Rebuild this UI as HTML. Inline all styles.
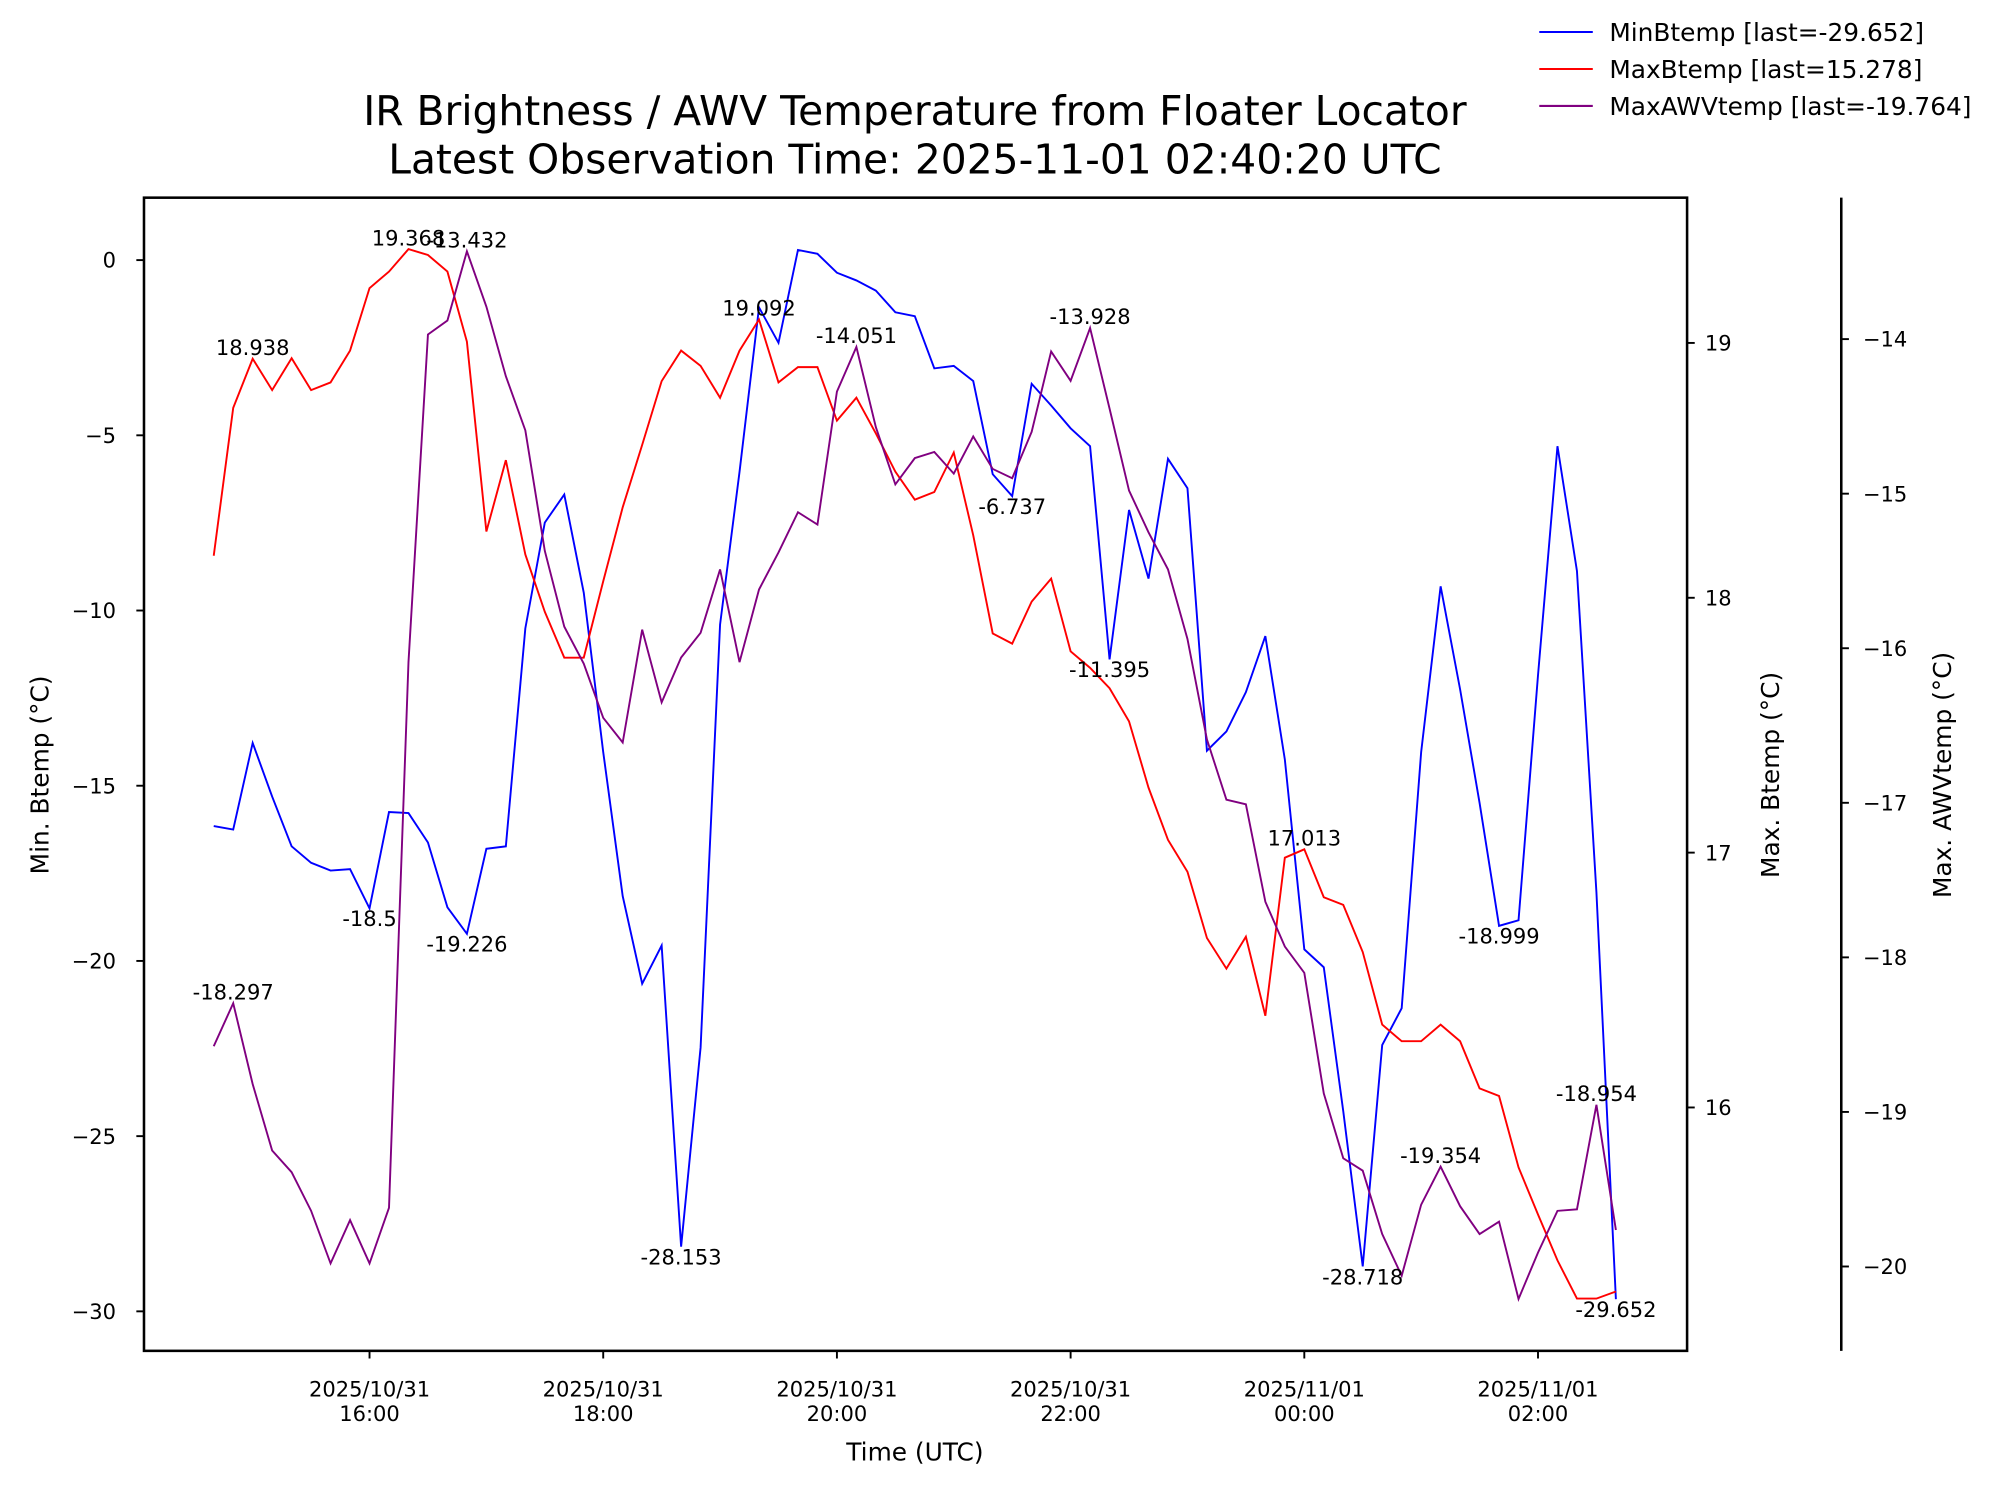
<!DOCTYPE html>
<html><head><meta charset="utf-8"><style>
html,body{margin:0;padding:0;background:#fff;}
svg{display:block;font-family:"DejaVu Sans","Liberation Sans",sans-serif;}
</style></head><body>
<svg id="chart" width="1998" height="1495" viewBox="0 0 1568 1173" xmlns="http://www.w3.org/2000/svg">
<rect width="1568" height="1173" fill="#fff"/>
<text x="718" y="98" font-size="32" text-anchor="middle">IR Brightness / AWV Temperature from Floater Locator</text>
<text x="718" y="136" font-size="32" text-anchor="middle">Latest Observation Time: 2025-11-01 02:40:20 UTC</text>
<g id="plot"></g>
<g>
<line x1="1208" y1="25" x2="1250" y2="25" stroke="#0000ff" stroke-width="1.6"/>
<text x="1263" y="32" font-size="19.5">MinBtemp [last=-29.652]</text>
<line x1="1208" y1="54" x2="1250" y2="54" stroke="#ff0000" stroke-width="1.6"/>
<text x="1263" y="61" font-size="19.5">MaxBtemp [last=15.278]</text>
<line x1="1208" y1="83" x2="1250" y2="83" stroke="#800080" stroke-width="1.6"/>
<text x="1263" y="90" font-size="19.5">MaxAWVtemp [last=-19.764]</text>
</g>
</svg>
<script>
const minBtemp=[-16.15,-16.25,-13.78,-15.31,-16.73,-17.2,-17.42,-17.38,-18.5,-15.75,-15.78,-16.62,-18.47,-19.226,-16.8,-16.73,-10.51,-7.49,-6.69,-9.49,-14.04,-18.15,-20.65,-19.56,-28.153,-22.47,-10.4,-6.04,-1.35,-2.36,0.29,0.18,-0.36,-0.58,-0.87,-1.49,-1.6,-3.09,-3.02,-3.45,-6.11,-6.737,-3.53,-4.15,-4.8,-5.31,-11.395,-7.13,-9.09,-5.67,-6.51,-14.0,-13.45,-12.33,-10.73,-14.25,-19.67,-20.18,-24.29,-28.718,-22.4,-21.35,-14.04,-9.31,-12.25,-15.49,-18.999,-18.84,-11.85,-5.31,-8.87,-18.04,-29.652];
const maxBtemp=[18.165,18.745,18.938,18.815,18.94,18.815,18.845,18.97,19.215,19.28,19.368,19.345,19.28,19.005,18.26,18.54,18.17,17.945,17.765,17.765,18.065,18.355,18.6,18.85,18.97,18.91,18.785,18.97,19.092,18.845,18.905,18.905,18.695,18.785,18.645,18.495,18.385,18.415,18.57,18.245,17.86,17.82,17.985,18.075,17.79,17.725,17.645,17.515,17.255,17.05,16.925,16.665,16.545,16.67,16.36,16.98,17.013,16.825,16.795,16.61,16.325,16.26,16.26,16.325,16.26,16.075,16.045,15.765,15.58,15.4,15.25,15.25,15.278];
const maxAWVtemp=[-18.575,-18.297,-18.82,-19.25,-19.39,-19.64,-19.98,-19.7,-19.98,-19.62,-16.09,-13.97,-13.88,-13.432,-13.79,-14.24,-14.59,-15.37,-15.86,-16.1,-16.45,-16.61,-15.88,-16.35,-16.06,-15.9,-15.49,-16.09,-15.62,-15.38,-15.12,-15.2,-14.34,-14.051,-14.57,-14.94,-14.77,-14.73,-14.87,-14.63,-14.84,-14.9,-14.6,-14.08,-14.27,-13.928,-14.45,-14.98,-15.25,-15.49,-15.94,-16.59,-16.98,-17.01,-17.64,-17.93,-18.1,-18.88,-19.3,-19.38,-19.79,-20.06,-19.6,-19.354,-19.61,-19.79,-19.71,-20.21,-19.91,-19.64,-19.63,-18.954,-19.764];
const startMinutes=-80; // 14:40 relative to 16:00
const stepMinutes=10;
const minAnnIdx=[8,13,24,41,46,59,66,72];
const maxAnnIdx=[2,10,28,56];
const awvAnnIdx=[1,13,33,45,63,71];
const leftTicks=[0,-5,-10,-15,-20,-25,-30];
const leftTickLabels=["0","\u22125","\u221210","\u221215","\u221220","\u221225","\u221230"];
const r1Ticks=[19,18,17,16];
const r1TickLabels=["19","18","17","16"];
const r2Ticks=[-14,-15,-16,-17,-18,-19,-20];
const r2TickLabels=["\u221214","\u221215","\u221216","\u221217","\u221218","\u221219","\u221220"];
const xTickHours=[0,2,4,6,8,10];
const xTickLine1=["2025/10/31","2025/10/31","2025/10/31","2025/10/31","2025/11/01","2025/11/01"];
const xTickLine2=["16:00","18:00","20:00","22:00","00:00","02:00"];

const L=113,R=1324,T=155,B=1060,R2=1445;
const FS=16.5;
const xOfMin=m=>290+m*(91.7/60);
const yL=v=>204-v*27.5;
const yR1=v=>269-(v-19)*200;
const yR2=v=>266-(v+14)*121.3;
const NS="http://www.w3.org/2000/svg";
const g=document.getElementById('plot');
function mk(tag,attrs,parent){const e=document.createElementNS(NS,tag);for(const k in attrs)e.setAttribute(k,attrs[k]);(parent||g).appendChild(e);return e;}
function txt(s,x,y,size,anchor,parent){const t=mk('text',{x:x,y:y,'font-size':size,'text-anchor':anchor},parent);t.textContent=s;return t;}
const xi=i=>xOfMin(startMinutes+i*stepMinutes);

function series(data,yf,color,name){
  const p=mk('polyline',{points:data.map((v,i)=>xi(i).toFixed(2)+','+yf(v).toFixed(2)).join(' '),fill:'none',stroke:color,'stroke-width':1.5,'stroke-linejoin':'miter'});
  
  
}
series(minBtemp,yL,'#0000ff','minbtemp-line');
series(maxBtemp,yR1,'#ff0000','maxbtemp-line');
series(maxAWVtemp,yR2,'#800080','maxawvtemp-line');

function ann(idx,data,yf,below,prefix){
  idx.forEach(i=>{
    const v=data[i];
    const t=txt(String(v),xi(i),below?yf(v)+14:yf(v)-3,FS,'middle');
    
    
  });
}
ann(minAnnIdx,minBtemp,yL,true,'minbtemp');
ann(maxAnnIdx,maxBtemp,yR1,false,'maxbtemp');
ann(awvAnnIdx,maxAWVtemp,yR2,false,'maxawvtemp');

const fr=mk('rect',{x:L,y:T,width:R-L,height:B-T,fill:'none',stroke:'#000','stroke-width':2});


const sp=mk('line',{x1:R2,y1:T,x2:R2,y2:B,stroke:'#000','stroke-width':2});



leftTicks.forEach((v,k)=>{
  mk('line',{x1:L-6,y1:yL(v),x2:L,y2:yL(v),stroke:'#000','stroke-width':1.5});
  const t=txt(leftTickLabels[k],L-22,yL(v)+6,FS,'end');
  
  
});
r1Ticks.forEach((v,k)=>{
  mk('line',{x1:R,y1:yR1(v),x2:R+6,y2:yR1(v),stroke:'#000','stroke-width':1.5});
  const t=txt(r1TickLabels[k],R+14,yR1(v)+6,FS,'start');
  
  
});
r2Ticks.forEach((v,k)=>{
  mk('line',{x1:R2,y1:yR2(v),x2:R2+6,y2:yR2(v),stroke:'#000','stroke-width':1.5});
  const t=txt(r2TickLabels[k],R2+17,yR2(v)+6,FS,'start');
  
  
});
xTickHours.forEach((h,k)=>{
  const x=xOfMin(h*60);
  mk('line',{x1:x,y1:B,x2:x,y2:B+6,stroke:'#000','stroke-width':1.5});
  const t1=txt(xTickLine1[k],x,1096,FS,'middle');
  
  
  const t2=txt(xTickLine2[k],x,1115,FS,'middle');
  
  
});
const xl=txt('Time (UTC)',718,1146,19.5,'middle');


const yl=txt('Min. Btemp (°C)',0,0,19.5,'middle');
yl.setAttribute('transform','translate(38,608) rotate(-90)');


const yr=txt('Max. Btemp (°C)',0,0,19.5,'middle');
yr.setAttribute('transform','translate(1396,608) rotate(-90)');


const ya=txt('Max. AWVtemp (°C)',0,0,19.5,'middle');
ya.setAttribute('transform','translate(1531,608) rotate(-90)');


</script>
</body></html>
